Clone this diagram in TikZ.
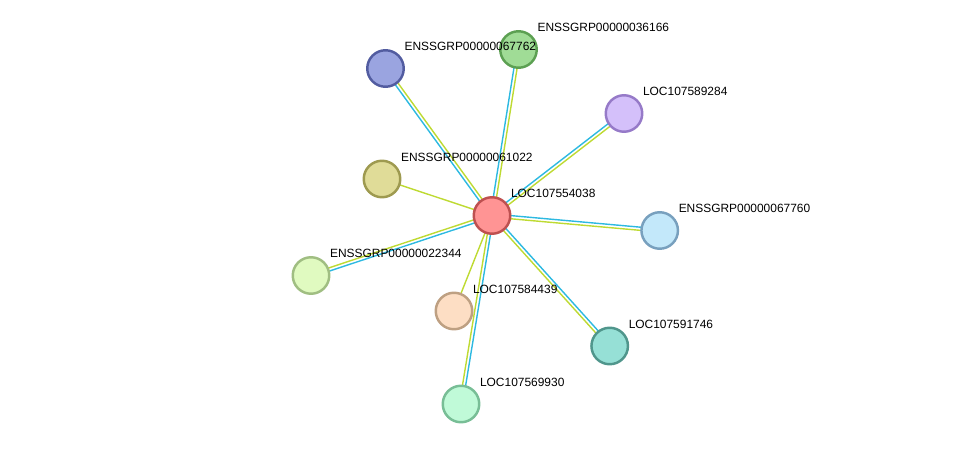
\documentclass[tikz,border=0pt]{standalone}
\usepackage{fontspec}
\setmainfont{Liberation Sans}
\usetikzlibrary{calc}

\definecolor{dblink}{RGB}{45,185,225}
\definecolor{txlink}{RGB}{190,218,50}

\definecolor{redfill}{RGB}{255,148,148}    \definecolor{reddraw}{RGB}{190,80,80}
\definecolor{bluefill}{RGB}{154,164,224}   \definecolor{bluedraw}{RGB}{82,92,160}
\definecolor{greenfill}{RGB}{160,220,150}  \definecolor{greendraw}{RGB}{92,160,82}
\definecolor{lilacfill}{RGB}{212,192,250}  \definecolor{lilacdraw}{RGB}{150,122,200}
\definecolor{olivefill}{RGB}{224,220,152}  \definecolor{olivedraw}{RGB}{158,154,80}
\definecolor{skyfill}{RGB}{195,232,250}    \definecolor{skydraw}{RGB}{120,160,190}
\definecolor{limefill}{RGB}{224,250,192}   \definecolor{limedraw}{RGB}{160,190,130}
\definecolor{peachfill}{RGB}{253,222,196}  \definecolor{peachdraw}{RGB}{190,160,130}
\definecolor{tealfill}{RGB}{150,224,214}   \definecolor{tealdraw}{RGB}{80,150,140}
\definecolor{mintfill}{RGB}{192,250,216}   \definecolor{mintdraw}{RGB}{120,190,150}

\begin{document}
\begin{tikzpicture}[
  x=0.02cm, y=-0.02cm,
  protein/.style={
    circle, line width=1.4pt,
    minimum size=0.73cm, inner sep=0pt
  },
  plabel/.style={
    anchor=base west, inner sep=0pt,
    font=\fontsize{6.8pt}{8pt}\selectfont
  },
  link/.style={line width=0.8pt}
]

\useasboundingbox (0,0) rectangle (975,449);

%% ============================================================
%%  PROTEINS
%% ============================================================
\foreach \name/\px/\py/\col in {
    c/492/215.5/red,
    p067762/385.5/68.5/blue,
    p036166/518.5/49.5/green,
    p589284/624/113.5/lilac,
    p061022/382/179/olive,
    p067760/659.7/230.5/sky,
    p022344/311/275.5/lime,
    p584439/454/311/peach,
    p591746/609.7/346/teal,
    p569930/461/404/mint}
  \coordinate (\name) at (\px,\py);

%% ============================================================
%%  LINKS
%% ============================================================
% double links: cyan on the left, lime on the right
\foreach \t in {p067762, p036166, p589284, p067760,
                p022344, p591746, p569930} {
  \draw[link, dblink]
    ($(c)!0.9pt!90:(\t)$) -- ($(\t)!0.9pt!-90:(c)$);
  \draw[link, txlink]
    ($(c)!0.9pt!-90:(\t)$) -- ($(\t)!0.9pt!90:(c)$);
}
% single links
\foreach \t in {p061022, p584439}
  \draw[link, txlink] (c) -- (\t);

%% ============================================================
%%  NODES
%% ============================================================
\foreach \name/\col in {
    c/red, p067762/blue, p036166/green, p589284/lilac,
    p061022/olive, p067760/sky, p022344/lime,
    p584439/peach, p591746/teal, p569930/mint}
  \node[protein, draw=\col draw, fill=\col fill] (n\name) at (\name) {};

%% ============================================================
%%  LABELS
%% ============================================================
\foreach \name/\txt in {
    c/LOC107554038,
    p067762/ENSSGRP00000067762,
    p036166/ENSSGRP00000036166,
    p589284/LOC107589284,
    p061022/ENSSGRP00000061022,
    p067760/ENSSGRP00000067760,
    p022344/ENSSGRP00000022344,
    p584439/LOC107584439,
    p591746/LOC107591746,
    p569930/LOC107569930}
  \node[plabel] (l\name) at ($(\name)+(18.7,-17.5)$) {\txt};

\end{tikzpicture}
\end{document}
